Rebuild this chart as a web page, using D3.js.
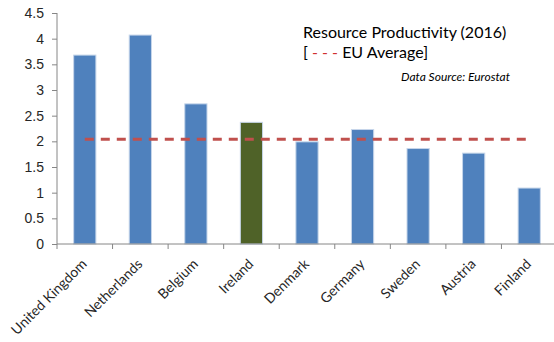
<!DOCTYPE html>
<html lang="en">
<style>
body { margin: 0; background: white; }
svg { font-family: Lato, "Open Sans", sans-serif; }
.bar { stroke: #c6d6ea; stroke-width: 1; }
.axis path, .axis line { stroke: #868686; }
.axis text { fill: #262626; font-size: 14px; }
</style>
<svg width="554" height="342"></svg>
<script src="https://d3js.org/d3.v7.min.js"></script>
<script>
var countries = ["United Kingdom", "Netherlands", "Belgium", "Ireland", "Denmark",
                 "Germany", "Sweden", "Austria", "Finland"];
var productivity = [3.68, 4.07, 2.73, 2.37, 1.99, 2.23, 1.86, 1.77, 1.09];
var euAverage = [2.04, 2.04, 2.04, 2.04, 2.04, 2.04, 2.04, 2.04, 2.04];
var yTicks = [0, 0.5, 1, 1.5, 2, 2.5, 3, 3.5, 4, 4.5];
var highlight = "Ireland";

var svg = d3.select("svg");
var plotLeft = 57, plotRight = 557, plotTop = 13, plotBottom = 244;

var xScale = d3.scaleBand()
    .domain(countries)
    .range([plotLeft, plotRight])
    .paddingInner(0.6).paddingOuter(0.3);

var xTick = d3.scaleBand().domain(countries).range([plotLeft, plotRight]);

var yScale = d3.scaleLinear()
    .domain([0, 4.5])
    .range([plotBottom, plotTop]);

// bars
svg.append("g").selectAll("rect")
    .data(countries)
    .enter().append("rect")
        .attr("class", "bar")
        .attr("x", function(d) { return xScale(d); })
        .attr("width", xScale.bandwidth())
        .attr("y", function(d, i) { return yScale(productivity[i]); })
        .attr("height", function(d, i) { return plotBottom - yScale(productivity[i]); })
        .attr("fill", function(d) { return d == highlight ? "#4f6228" : "#4f81bd"; });

// EU average line
var line = d3.line()
    .x(function(d, i) { return xTick(countries[i]) + xTick.bandwidth() / 2; })
    .y(function(d) { return yScale(d); });

svg.append("path")
    .datum(euAverage)
    .attr("fill", "none")
    .attr("stroke", "#c0504d")
    .attr("stroke-width", 3)
    .attr("stroke-dasharray", "9,7")
    .attr("d", line);

// y axis
var yAxis = svg.append("g")
    .attr("class", "axis")
    .attr("transform", "translate(" + plotLeft + ",0)")
    .call(d3.axisLeft(yScale).tickValues(yTicks).tickSize(5).tickPadding(8)
        .tickFormat(function(d) { return d; }));
yAxis.select(".domain").attr("d", "M0," + plotTop + "V" + plotBottom);

// x axis with ticks between categories
var xAxis = svg.append("g")
    .attr("class", "axis")
    .attr("transform", "translate(0," + plotBottom + ")");
xAxis.append("line").attr("x1", plotLeft).attr("x2", plotRight).attr("stroke", "#868686");
xAxis.selectAll(".tk")
    .data(countries)
    .enter().append("line")
        .attr("x1", function(d) { return xTick(d); })
        .attr("x2", function(d) { return xTick(d); })
        .attr("y2", 5)
        .attr("stroke", "#868686");
xAxis.selectAll(".lbl")
    .data(countries)
    .enter().append("text")
        .attr("transform", function(d) {
            return "translate(" + (xTick(d) + xTick.bandwidth() / 2 - 4) + ",14) rotate(-45)";
        })
        .attr("text-anchor", "end")
        .attr("dy", "0.7em")
        .style("font-size", "14px")
        .text(function(d) { return d; });

// title block
svg.append("text")
    .attr("x", 303).attr("y", 38)
    .style("font-size", "16px").attr("fill", "#000")
    .text("Resource Productivity (2016)");
var leg = svg.append("text")
    .attr("x", 303).attr("y", 58)
    .style("font-size", "16px").attr("fill", "#000");
leg.append("tspan").text("[ ");
leg.append("tspan").attr("fill", "#d03030").text("- - -");
leg.append("tspan").text(" EU Average]");
svg.append("text")
    .attr("x", 510).attr("y", 81)
    .attr("text-anchor", "end")
    .style("font-size", "12px").style("font-style", "italic")
    .text("Data Source: Eurostat");
</script>
